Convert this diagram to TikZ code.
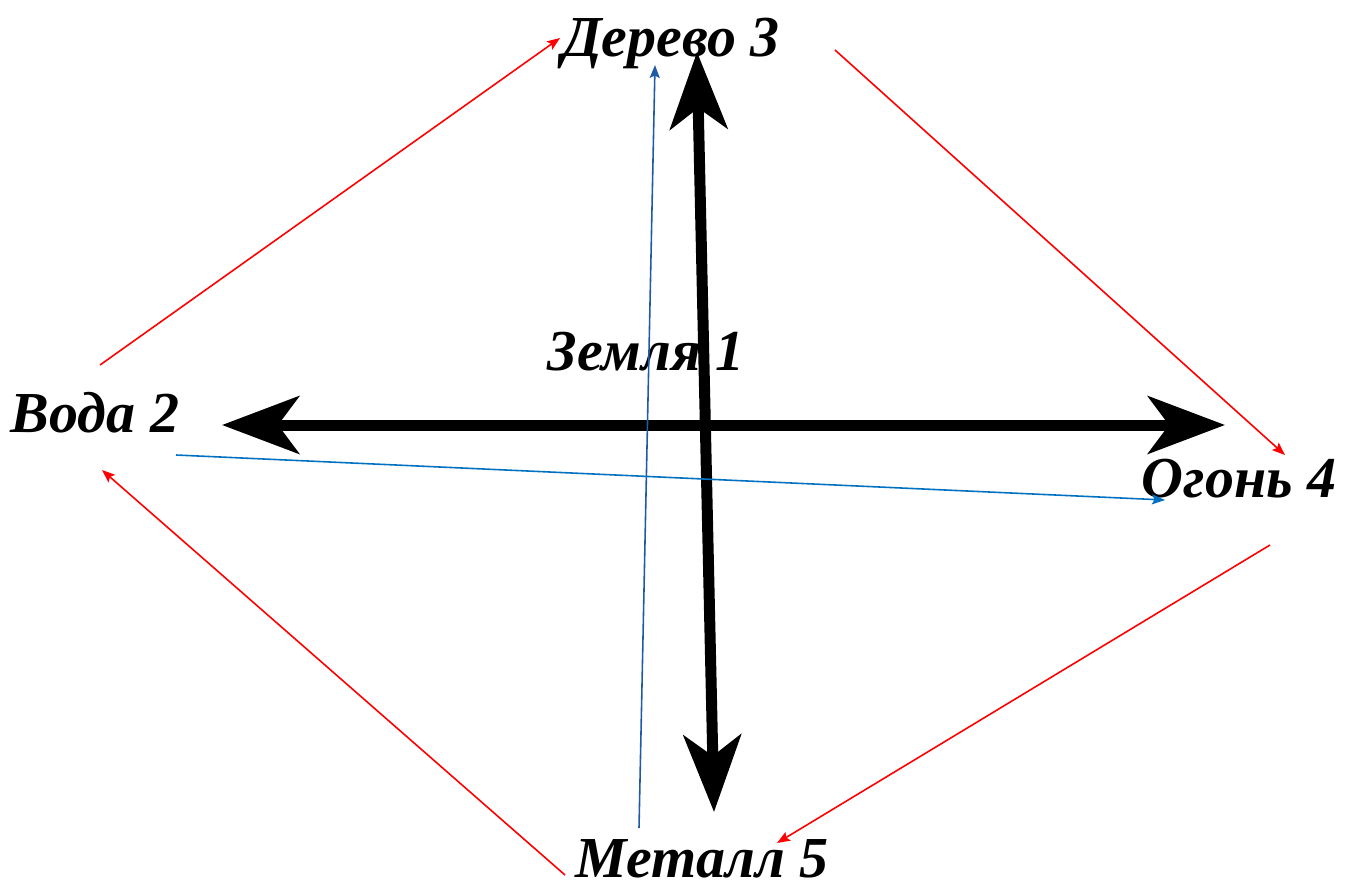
\documentclass[tikz,border=0pt]{standalone}
\usepackage{fontspec}
\setmainfont{Liberation Serif}
\usetikzlibrary{arrows.meta}

\definecolor{linkred}{RGB}{255,0,0}
\definecolor{linkblue}{RGB}{0,112,192}
\definecolor{linkbluedark}{RGB}{30,90,165}

\tikzset{
    element/.style={anchor=base, inner sep=0pt, font=\fontsize{33}{37}\selectfont\bfseries\itshape},
    bigarrow/.style={line width=0.22cm, {Stealth[length=1.54cm, width=1.15cm, inset=0.42cm]}-{Stealth[length=1.54cm, width=1.15cm, inset=0.42cm]}},
    redlink/.style={linkred, line width=0.9pt, -{Stealth[length=0.26cm, width=0.2cm, inset=0.05cm]}},
    bluelink/.style={line width=0.9pt, -{Stealth[length=0.26cm, width=0.2cm, inset=0.05cm]}}
}

\begin{document}
\begin{tikzpicture}[x=0.02cm, y=-0.02cm]
    \useasboundingbox (0,0) rectangle (1345,892);

    \node[element] (zemlya) at (646,370) {Земля 1};
    \node[element] (voda) at (95,432) {Вода 2};
    \node[element] (derevo) at (671,57) {Дерево 3};
    \node[element] (ogon) at (1239,497) {Огонь 4};
    \node[element] (metall) at (702,877) {Металл 5};

    \coordinate (h-left) at (222,425);
    \coordinate (h-right) at (1225,425);
    \coordinate (v-top) at (697,52);
    \coordinate (v-bottom) at (714,812);

    \coordinate (voda-up) at (100,365);
    \coordinate (voda-down) at (102,470);
    \coordinate (voda-right) at (176,455);
    \coordinate (derevo-left) at (560,38);
    \coordinate (derevo-right) at (835,50);
    \coordinate (derevo-below) at (655,65);
    \coordinate (ogon-up) at (1285,455);
    \coordinate (ogon-down) at (1270,545);
    \coordinate (ogon-left) at (1165,500);
    \coordinate (metall-left) at (565,875);
    \coordinate (metall-right) at (777,843);
    \coordinate (metall-up) at (639,828);

    \draw[bigarrow] (h-left) -- (h-right);
    \draw[bigarrow] (v-top) -- (v-bottom);

    \draw[bluelink, linkbluedark] (metall-up) -- (derevo-below);
    \draw[bluelink, linkblue] (voda-right) -- (ogon-left);

    \draw[redlink] (voda-up) -- (derevo-left);
    \draw[redlink] (derevo-right) -- (ogon-up);
    \draw[redlink] (ogon-down) -- (metall-right);
    \draw[redlink] (metall-left) -- (voda-down);
\end{tikzpicture}
\end{document}
